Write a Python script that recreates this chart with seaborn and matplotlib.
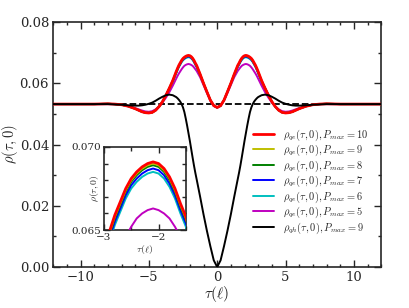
import matplotlib
matplotlib.use("Agg")
import matplotlib.pyplot as plt
import seaborn as sns
from matplotlib.ticker import MultipleLocator, FormatStrFormatter

# ---- data (tau >= 0, curves are symmetric) ----
tau_half = [0, 0.25, 0.5, 0.75, 1.0, 1.25, 1.5, 1.6, 1.7, 1.8, 1.9, 2.0, 2.1,
            2.2, 2.3, 2.4, 2.5, 2.6, 2.7, 2.8, 2.9, 3.0, 3.25, 3.5, 3.75, 4.0,
            4.25, 4.5, 4.75, 5.0, 5.25, 5.5, 5.75, 6.0, 6.5, 7.0, 7.5, 8.0,
            9.0, 10.0, 12.0]

qe_p10 = [.0521, .0527, .0545, .0572, .0600, .0630, .0658, .0666, .0675, .0682,
          .0687, .0690, .0691, .0690, .0688, .0685, .0681, .0675, .0667, .0659,
          .0649, .0638, .0609, .0584, .0561, .0540, .0524, .0512, .0505, .0503,
          .0504, .0507, .0512, .0517, .0525, .0530, .0532, .0533, .0532, .0532,
          .0532]
qe_p9 = [.0521, .0527, .0545, .0572, .0600, .0630, .0657, .0665, .0674, .0681,
         .0686, .0689, .0690, .0689, .0687, .0684, .0680, .0674, .0666, .0658,
         .0648, .0637, .0609, .0584, .0561, .0540, .0524, .0512, .0505, .0503,
         .0504, .0507, .0512, .0517, .0525, .0530, .0532, .0533, .0532, .0532,
         .0532]
qe_p8 = [.0521, .0527, .0545, .0572, .0600, .0629, .0656, .0664, .0673, .0680,
         .0685, .0688, .0689, .0688, .0686, .0683, .0679, .0673, .0665, .0657,
         .0647, .0636, .0608, .0584, .0561, .0540, .0524, .0512, .0505, .0503,
         .0504, .0507, .0512, .0517, .0525, .0530, .0532, .0533, .0532, .0532,
         .0532]
qe_p7 = [.0521, .0527, .0545, .0572, .0600, .0628, .0654, .0662, .0671, .0678,
         .0683, .0686, .0687, .0686, .0684, .0681, .0677, .0671, .0663, .0655,
         .0645, .0634, .0607, .0584, .0561, .0540, .0524, .0512, .0505, .0503,
         .0504, .0507, .0512, .0517, .0525, .0530, .0532, .0533, .0532, .0532,
         .0532]
qe_p6 = [.0521, .0527, .0545, .0572, .0599, .0627, .0652, .0660, .0669, .0676,
         .0681, .0684, .0685, .0684, .0682, .0679, .0675, .0669, .0661, .0653,
         .0643, .0632, .0605, .0583, .0561, .0540, .0524, .0512, .0505, .0503,
         .0504, .0507, .0512, .0517, .0525, .0530, .0532, .0533, .0532, .0532,
         .0532]
qe_p5 = [.0520, .0526, .0543, .0568, .0594, .0620, .0640, .0646, .0652, .0657,
         .0660, .0662, .0663, .0662, .0660, .0657, .0652, .0646, .0639, .0632,
         .0624, .0615, .0592, .0571, .0553, .0537, .0524, .0515, .0509, .0507,
         .0508, .0511, .0515, .0519, .0526, .0530, .0532, .0532, .0532, .0532,
         .0532]
qh_p9 = [.0000, .0022, .0068, .0118, .0172, .0230, .0286, .0308, .0332, .0358,
         .0385, .0412, .0437, .0462, .0485, .0506, .0521, .0532, .0540, .0546,
         .0551, .0555, .0561, .0563, .0561, .0556, .0550, .0543, .0537, .0533,
         .0530, .0528, .0527, .0527, .0528, .0530, .0531, .0532, .0532, .0532,
         .0532]
rho_bulk = 0.0532

labels = [r"$\rho_{qe}(\tau,0),P_{max}=10$", r"$\rho_{qe}(\tau,0),P_{max}=9$",
          r"$\rho_{qe}(\tau,0),P_{max}=8$", r"$\rho_{qe}(\tau,0),P_{max}=7$",
          r"$\rho_{qe}(\tau,0),P_{max}=6$", r"$\rho_{qe}(\tau,0),P_{max}=5$",
          r"$\rho_{qh}(\tau,0),P_{max}=9$"]
series = [qe_p10, qe_p9, qe_p8, qe_p7, qe_p6, qe_p5, qh_p9]
colors = ["#ff0000", "#bfbf00", "#008000", "#0000ff", "#00bfbf", "#bf00bf", "#000000"]
widths = [2.0, 1.4, 1.4, 1.4, 1.4, 1.4, 1.4]
zorders = [9, 8, 7, 6, 5, 4, 10]


def mirror(half, neg=False):
    left = [-v for v in half[:0:-1]] if neg else list(half[:0:-1])
    return left + list(half)


tau = mirror(tau_half, neg=True)

sns.set_style("ticks")
plt.rcParams["font.family"] = ["DejaVu Serif"]
plt.rcParams["mathtext.fontset"] = "cm"
plt.rcParams["xtick.direction"] = "in"
plt.rcParams["ytick.direction"] = "in"

fig = plt.figure(figsize=(4.09, 3.08), dpi=100)
ax = fig.add_axes([0.130, 0.133, 0.802, 0.7955])

ax.axhline(rho_bulk, color="black", ls="--", lw=1.3, zorder=3)
for ys, lab, c, w, z in zip(series, labels, colors, widths, zorders):
    sns.lineplot(x=tau, y=mirror(ys), ax=ax, color=c, lw=w, label=lab,
                 estimator=None, sort=False, zorder=z)

ax.set_xlim(-12, 12)
ax.set_ylim(0, 0.08)
ax.xaxis.set_major_locator(MultipleLocator(5))
ax.xaxis.set_minor_locator(MultipleLocator(1))
ax.yaxis.set_major_locator(MultipleLocator(0.02))
ax.yaxis.set_minor_locator(MultipleLocator(0.01))
ax.tick_params(which="both", top=True, right=True, labelsize=9.5)
ax.tick_params(which="major", length=5, width=1, pad=3)
ax.tick_params(which="minor", length=2.5, width=1)
for s in ax.spines.values():
    s.set_linewidth(1.2)
ax.set_xlabel(r"$\tau(\ell)$", fontsize=11, labelpad=0)
ax.set_ylabel(r"$\rho(\tau,0)$", fontsize=10.5, labelpad=0)
ax.yaxis.set_label_coords(-0.1, 0.5)

ax.legend(loc="upper left", bbox_to_anchor=(0.61, 0.57), frameon=False,
          fontsize=7.5, handlelength=2.0, handletextpad=0.9, labelspacing=0.02,
          borderaxespad=0, borderpad=0)

# ---- inset ----
ins = fig.add_axes([0.254, 0.253, 0.2005, 0.27])
for ys, c, w, z in zip(series, colors, widths, zorders):
    sns.lineplot(x=tau, y=mirror(ys), ax=ins, color=c, lw=w,
                 estimator=None, sort=False, zorder=z)
ins.set_xlim(-3, -1.5)
ins.set_ylim(0.065, 0.070)
ins.xaxis.set_major_locator(MultipleLocator(1))
ins.xaxis.set_minor_locator(MultipleLocator(0.5))
ins.yaxis.set_major_locator(MultipleLocator(0.005))
ins.yaxis.set_minor_locator(MultipleLocator(0.001))
ins.yaxis.set_major_formatter(FormatStrFormatter("%.3f"))
ins.tick_params(which="both", top=True, right=True, labelsize=7.5, pad=2)
ins.tick_params(which="major", length=4, width=1)
ins.tick_params(which="minor", length=3, width=1)
for s in ins.spines.values():
    s.set_linewidth(1.2)
ins.set_xlabel(r"$\tau(\ell)$", fontsize=7, labelpad=1)
ins.set_ylabel(r"$\rho(\tau,0)$", fontsize=7)
ins.yaxis.set_label_coords(-0.04, 0.5)

fig.savefig("out.png", dpi=100)
